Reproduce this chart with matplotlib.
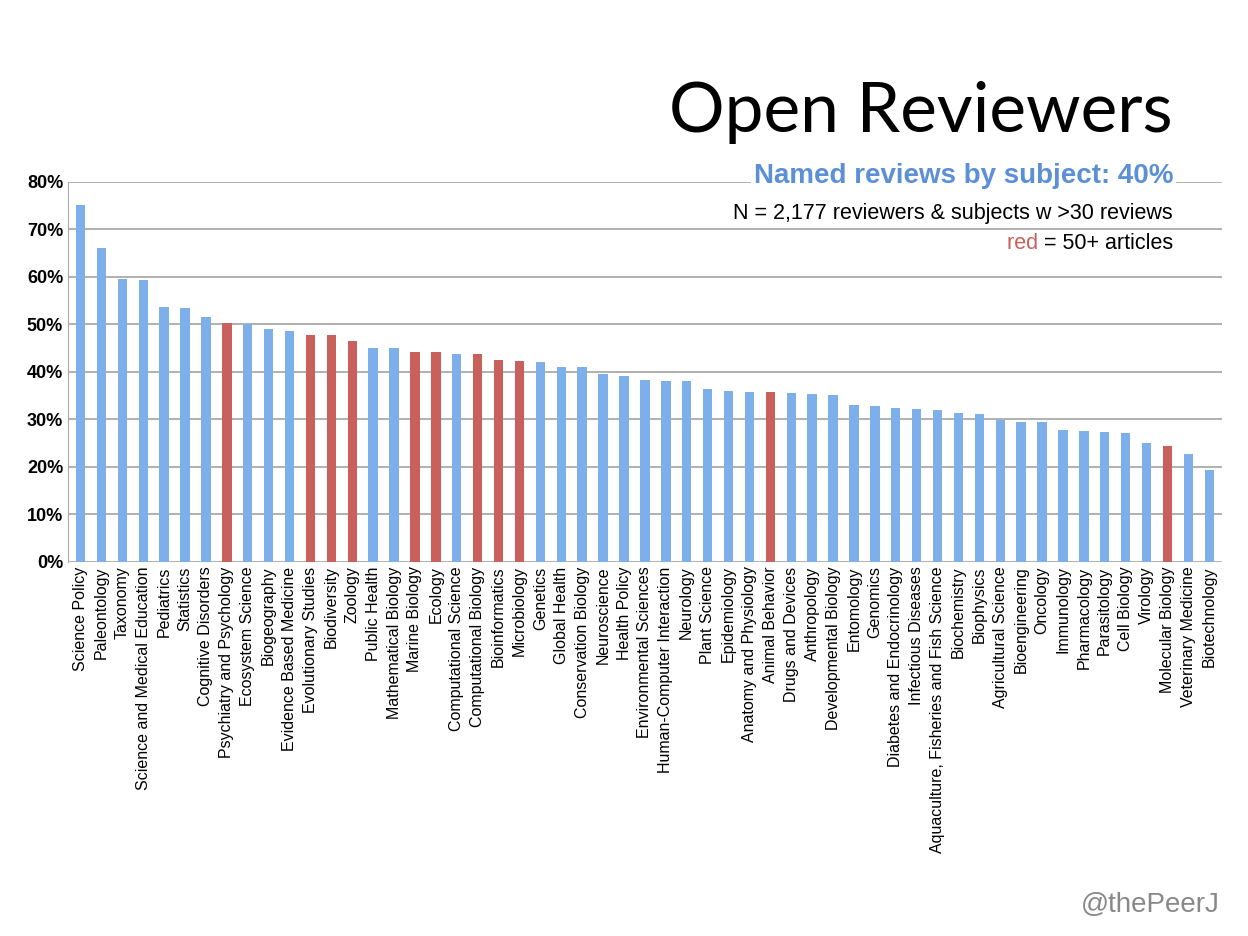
import numpy as np
import matplotlib.pyplot as plt

plt.rcParams['font.family'] = ['Liberation Sans', 'DejaVu Sans']

subjects = ["Science Policy", "Paleontology", "Taxonomy", "Science and Medical Education",
            "Pediatrics", "Statistics", "Cognitive Disorders", "Psychiatry and Psychology",
            "Ecosystem Science", "Biogeography", "Evidence Based Medicine", "Evolutionary Studies",
            "Biodiversity", "Zoology", "Public Health", "Mathematical Biology", "Marine Biology",
            "Ecology", "Computational Science", "Computational Biology", "Bioinformatics",
            "Microbiology", "Genetics", "Global Health", "Conservation Biology", "Neuroscience",
            "Health Policy", "Environmental Sciences", "Human-Computer Interaction", "Neurology",
            "Plant Science", "Epidemiology", "Anatomy and Physiology", "Animal Behavior",
            "Drugs and Devices", "Anthropology", "Developmental Biology", "Entomology", "Genomics",
            "Diabetes and Endocrinology", "Infectious Diseases",
            "Aquaculture, Fisheries and Fish Science", "Biochemistry", "Biophysics",
            "Agricultural Science", "Bioengineering", "Oncology", "Immunology", "Pharmacology",
            "Parasitology", "Cell Biology", "Virology", "Molecular Biology",
            "Veterinary Medicine", "Biotechnology"]
named_pct = [75, 66, 59.5, 59.3, 53.5, 53.3, 51.5, 50.3, 50, 49, 48.5, 47.8, 47.7, 46.4,
             45, 45, 44.2, 44.1, 43.7, 43.6, 42.4, 42.3, 42, 41, 41, 39.5, 39, 38.2, 38, 38,
             36.3, 35.9, 35.8, 35.8, 35.5, 35.3, 35, 33, 32.8, 32.3, 32.2, 31.9, 31.2, 31,
             29.8, 29.4, 29.3, 27.8, 27.5, 27.2, 27, 25, 24.3, 22.7, 19.3]
red_subjects = ["Psychiatry and Psychology", "Evolutionary Studies", "Biodiversity", "Zoology",
                "Marine Biology", "Ecology", "Computational Biology", "Bioinformatics",
                "Microbiology", "Animal Behavior", "Molecular Biology"]

fig = plt.figure(figsize=(12.48, 9.36), dpi=100)
ax = fig.add_axes([0.0545, 0.400, 0.9245, 0.406])

x = np.arange(len(subjects))
colors = ['#c9605c' if s in red_subjects else '#7db0ea' for s in subjects]
ax.bar(x, named_pct, width=0.45, color=colors, zorder=2)

ax.set_ylim(0, 80)
ax.set_xlim(-0.6, len(subjects) - 0.4)
ax.set_yticks(range(0, 81, 10))
ax.set_yticklabels([f"{v}%" for v in range(0, 81, 10)], fontsize=13, fontweight='bold')
ax.yaxis.grid(True, color='#aaaaaa', linewidth=1.3, zorder=0)
ax.set_xticks(x)
ax.set_xticklabels(subjects, rotation=90, fontsize=11.5)
ax.tick_params(length=0)
for side in ['top', 'right', 'bottom']:
    ax.spines[side].set_visible(False)
ax.spines['left'].set_color('#aaaaaa')

fig.text(0.94, 0.880, "Open Reviewers", fontsize=50, ha='right', va='center',
         family='Lato')
fig.text(0.94, 0.812, "Named reviews by subject: 40%", fontsize=20, ha='right', va='center',
         color='#5b8fd6', fontweight='bold',
         bbox=dict(facecolor='white', edgecolor='none', pad=2))
fig.text(0.94, 0.772, "N = 2,177 reviewers & subjects w >30 reviews", fontsize=15.5, ha='right',
         va='center', bbox=dict(facecolor='white', edgecolor='none', pad=3))
t = fig.text(0.94, 0.740, "= 50+ articles", fontsize=15.5, ha='right', va='center',
             bbox=dict(facecolor='white', edgecolor='none', pad=1))
ax.annotate("red ", xy=(0, 0.5), xycoords=t, ha='right', va='center',
            fontsize=15.5, color='#c9605c', annotation_clip=False)
fig.text(0.977, 0.033, "@thePeerJ", fontsize=20, ha='right', va='center', color='#888888')

fig.savefig("out.png", dpi=100)
